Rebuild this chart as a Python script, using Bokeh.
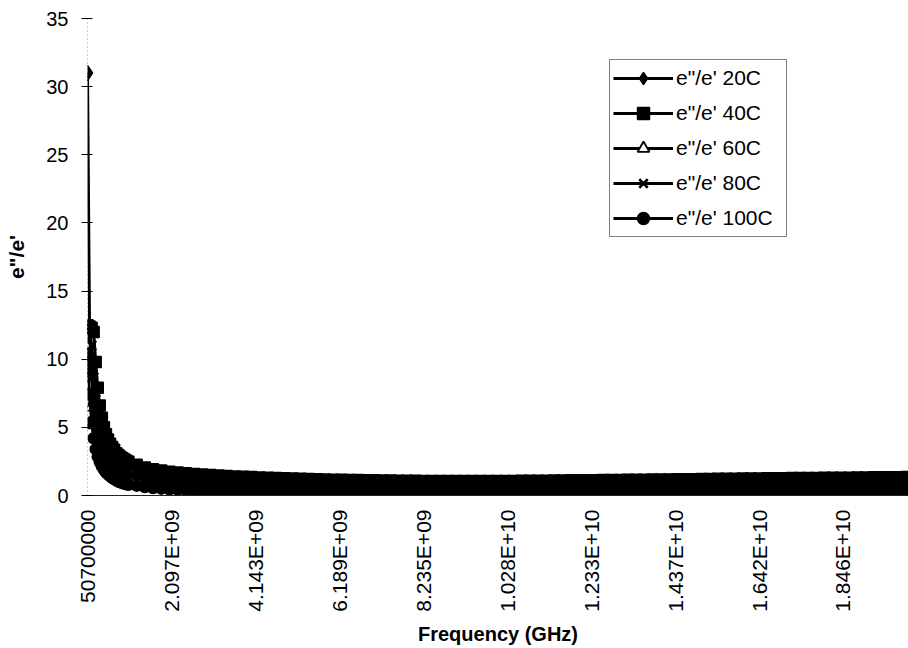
from bokeh.plotting import figure
from bokeh.models import FixedTicker, Legend, LegendItem, Range1d
from bokeh.embed import file_html
from bokeh.resources import INLINE
import math

# Sweep point numbers that are plotted (401-point sweep, 50.7 MHz .. ~20 GHz)
point_index = list(range(0, 21)) + list(range(24, 401, 4))

# Category-axis labels shown every 41 sweep points
tick_index = [0, 41, 82, 123, 164, 205, 246, 287, 328, 369]
tick_labels = ["50700000", "2.097E+09", "4.143E+09", "6.189E+09", "8.235E+09",
               "1.028E+10", "1.233E+10", "1.437E+10", "1.642E+10", "1.846E+10"]

y_ticks = [0, 5, 10, 15, 20, 25, 30, 35]

# Loss ratio e''/e' for each temperature
loss_20c = [
    31.0, 12.2, 8.9, 6.8, 5.5, 4.6, 4.0, 3.55, 3.2, 2.9, 2.65, 2.45, 2.28, 2.14, 2.01, 1.9, 1.81, 1.73, 1.66, 1.6, 1.55,
    1.46, 1.33, 1.23, 1.16, 1.10, 1.06, 1.02, 0.99, 0.96, 0.93,
    0.91, 0.89, 0.87, 0.85, 0.84, 0.82, 0.81, 0.80, 0.79, 0.77,
    0.76, 0.76, 0.75, 0.74, 0.73, 0.72, 0.72, 0.71, 0.71, 0.70,
    0.70, 0.69, 0.69, 0.68, 0.68, 0.68, 0.68, 0.68, 0.67, 0.67,
    0.67, 0.67, 0.67, 0.67, 0.68, 0.68, 0.68, 0.69, 0.69, 0.70,
    0.70, 0.70, 0.70, 0.71, 0.71, 0.71, 0.71, 0.72, 0.72, 0.73,
    0.73, 0.73, 0.74, 0.74, 0.74, 0.75, 0.75, 0.75, 0.76, 0.76,
    0.77, 0.77, 0.78, 0.78, 0.78, 0.79, 0.79, 0.80, 0.80, 0.80,
    0.81, 0.81, 0.81, 0.81, 0.82, 0.82, 0.82, 0.83, 0.83, 0.83,
    0.84, 0.84, 0.84, 0.85, 0.85,
]
loss_40c = [
    12.5, 12.4, 12.3, 12.0, 9.8, 7.9, 6.6, 5.7, 5.0, 4.5, 4.1, 3.8, 3.55, 3.35, 3.1, 2.97, 2.85, 2.74, 2.64, 2.55, 2.47,
    2.25, 2.06, 1.93, 1.83, 1.75, 1.68, 1.63, 1.58, 1.54, 1.50,
    1.46, 1.43, 1.40, 1.37, 1.35, 1.32, 1.30, 1.28, 1.26, 1.24,
    1.22, 1.21, 1.19, 1.18, 1.16, 1.15, 1.14, 1.13, 1.12, 1.11,
    1.10, 1.10, 1.09, 1.08, 1.08, 1.07, 1.07, 1.07, 1.06, 1.06,
    1.06, 1.06, 1.06, 1.06, 1.07, 1.07, 1.07, 1.08, 1.08, 1.09,
    1.09, 1.10, 1.10, 1.11, 1.11, 1.12, 1.12, 1.13, 1.14, 1.14,
    1.15, 1.15, 1.16, 1.17, 1.17, 1.18, 1.19, 1.19, 1.20, 1.21,
    1.21, 1.22, 1.23, 1.23, 1.24, 1.25, 1.25, 1.26, 1.27, 1.27,
    1.28, 1.28, 1.29, 1.29, 1.30, 1.30, 1.31, 1.31, 1.32, 1.32,
    1.33, 1.33, 1.34, 1.34, 1.35,
]
loss_60c = [
    11.0, 8.1, 6.5, 5.2, 4.3, 3.6, 3.1, 2.75, 2.45, 2.2, 2.0, 1.84, 1.7, 1.58, 1.48, 1.4, 1.33, 1.27, 1.22, 1.17, 1.13,
    1.09, 0.97, 0.89, 0.83, 0.78, 0.74, 0.72, 0.69, 0.66, 0.65,
    0.63, 0.61, 0.60, 0.59, 0.58, 0.57, 0.56, 0.55, 0.55, 0.54,
    0.53, 0.53, 0.52, 0.52, 0.52, 0.51, 0.50, 0.50, 0.50, 0.50,
    0.49, 0.49, 0.49, 0.49, 0.49, 0.48, 0.48, 0.48, 0.48, 0.48,
    0.48, 0.48, 0.48, 0.48, 0.48, 0.48, 0.48, 0.49, 0.49, 0.50,
    0.50, 0.50, 0.50, 0.50, 0.50, 0.51, 0.51, 0.51, 0.52, 0.52,
    0.52, 0.52, 0.52, 0.53, 0.53, 0.53, 0.54, 0.54, 0.54, 0.54,
    0.55, 0.55, 0.55, 0.55, 0.56, 0.56, 0.56, 0.56, 0.57, 0.57,
    0.57, 0.57, 0.58, 0.58, 0.58, 0.58, 0.58, 0.59, 0.59, 0.59,
    0.60, 0.60, 0.60, 0.60, 0.61,
]
loss_80c = [
    12.3, 12.2, 11.0, 9.2, 7.6, 6.4, 5.5, 4.85, 4.35, 3.95, 3.6, 3.35, 3.12, 2.93, 2.76, 2.62, 2.49, 2.38, 2.28, 2.19, 2.11,
    1.88, 1.72, 1.60, 1.51, 1.44, 1.38, 1.33, 1.28, 1.25, 1.22,
    1.18, 1.16, 1.13, 1.11, 1.09, 1.07, 1.05, 1.04, 1.02, 1.01,
    0.99, 0.98, 0.97, 0.96, 0.95, 0.94, 0.93, 0.92, 0.91, 0.90,
    0.90, 0.90, 0.89, 0.88, 0.88, 0.87, 0.87, 0.87, 0.86, 0.86,
    0.86, 0.86, 0.86, 0.86, 0.87, 0.87, 0.87, 0.88, 0.88, 0.89,
    0.89, 0.90, 0.90, 0.91, 0.91, 0.92, 0.92, 0.93, 0.93, 0.93,
    0.94, 0.94, 0.95, 0.96, 0.96, 0.97, 0.97, 0.97, 0.98, 0.99,
    0.99, 1.00, 1.01, 1.01, 1.01, 1.02, 1.02, 1.03, 1.04, 1.04,
    1.05, 1.05, 1.05, 1.05, 1.06, 1.06, 1.07, 1.07, 1.08, 1.08,
    1.09, 1.09, 1.09, 1.10, 1.10,
]
loss_100c = [
    10.4, 7.4, 5.4, 4.2, 3.4, 2.85, 2.45, 2.15, 1.9, 1.7, 1.55, 1.42, 1.3, 1.2, 1.11, 1.03, 0.97, 0.91, 0.86, 0.82, 0.78,
    0.72, 0.62, 0.55, 0.50, 0.46, 0.43, 0.41, 0.39, 0.37, 0.36,
    0.35, 0.34, 0.33, 0.33, 0.32, 0.32, 0.31, 0.31, 0.31, 0.30,
    0.30, 0.30, 0.30, 0.30, 0.30, 0.29, 0.29, 0.29, 0.29, 0.29,
    0.29, 0.29, 0.29, 0.29, 0.29, 0.29, 0.29, 0.29, 0.29, 0.29,
    0.29, 0.29, 0.29, 0.29, 0.29, 0.29, 0.29, 0.30, 0.30, 0.30,
    0.30, 0.30, 0.30, 0.30, 0.30, 0.30, 0.30, 0.31, 0.31, 0.31,
    0.31, 0.31, 0.31, 0.32, 0.32, 0.32, 0.32, 0.32, 0.32, 0.32,
    0.33, 0.33, 0.33, 0.33, 0.33, 0.33, 0.33, 0.33, 0.34, 0.34,
    0.34, 0.34, 0.34, 0.34, 0.34, 0.34, 0.34, 0.35, 0.35, 0.35,
    0.35, 0.35, 0.35, 0.36, 0.36,
]

series_names = ["e\"/e' 20C", "e\"/e' 40C", "e\"/e' 60C", "e\"/e' 80C", "e\"/e' 100C"]
series_values = [loss_20c, loss_40c, loss_60c, loss_80c, loss_100c]
series_markers = ["diamond", "square", "triangle", "x", "circle"]
series_marker_sizes = [15, 11, 13, 13, 11]
series_marker_lw = [1.5, 1.5, 1.8, 2.5, 1.5]
series_fill = ["black", "black", "white", "black", "black"]
# hollow triangles go underneath so the dense band stays solid
draw_order = [2, 3, 0, 1, 4]

FONT = "Liberation Sans"

p = figure(width=908, height=648, output_backend="svg", toolbar_location=None,
           x_range=Range1d(0, 401), y_range=Range1d(0, 35),
           min_border_left=87, min_border_right=0, min_border_top=18, min_border_bottom=153)
p.outline_line_color = None
p.background_fill_color = "white"
p.border_fill_color = "white"

# Axes
p.xaxis.ticker = FixedTicker(ticks=tick_index)
p.xaxis.major_label_overrides = {t: lab for t, lab in zip(tick_index, tick_labels)}
p.xaxis.major_label_orientation = math.pi / 2
p.xaxis.major_tick_in = 0
p.xaxis.major_tick_out = 0
p.xaxis.minor_tick_line_color = None
p.xaxis.axis_line_color = "#222222"
p.xaxis.axis_line_width = 1
p.xaxis.major_label_standoff = 14
p.xaxis.major_label_text_font = FONT
p.xaxis.major_label_text_font_size = "21px"
p.xaxis.major_label_text_color = "black"
p.xaxis.axis_label = "Frequency (GHz)"
p.xaxis.axis_label_text_font = FONT
p.xaxis.axis_label_text_font_style = "bold"
p.xaxis.axis_label_text_font_size = "20px"
p.xaxis.axis_label_text_color = "black"
p.xaxis.axis_label_standoff = 8

p.yaxis.ticker = FixedTicker(ticks=y_ticks)
p.yaxis.major_tick_in = 5
p.yaxis.major_tick_out = 6
p.yaxis.major_tick_line_color = "black"
p.yaxis.minor_tick_line_color = None
p.yaxis.axis_line_color = "#9a9a9a"
p.yaxis.axis_line_dash = "1 3"
p.yaxis.major_label_standoff = 13
p.yaxis.major_label_text_font = FONT
p.yaxis.major_label_text_font_size = "20px"
p.yaxis.major_label_text_color = "black"
p.yaxis.axis_label = "e\"/e'"
p.yaxis.axis_label_text_font = FONT
p.yaxis.axis_label_text_font_style = "bold"
p.yaxis.axis_label_text_font_size = "21px"
p.yaxis.axis_label_text_color = "black"
p.yaxis.axis_label_standoff = 15

p.xgrid.grid_line_color = None
p.ygrid.ticker = FixedTicker(ticks=[35])
p.ygrid.grid_line_color = "black"
p.ygrid.grid_line_width = 1

renderers = {}
for i in draw_order:
    vals = series_values[i]
    ln = p.line(point_index, vals, line_color="black", line_width=3)
    sc = p.scatter(point_index, vals, marker=series_markers[i], size=series_marker_sizes[i],
                   line_color="black", fill_color=series_fill[i], line_width=series_marker_lw[i])
    renderers[i] = [ln, sc]

items = [LegendItem(label=series_names[i], renderers=renderers[i]) for i in range(len(series_names))]

legend = Legend(items=items, location=(522, 258))
legend.border_line_color = "black"
legend.border_line_width = 1
legend.background_fill_color = "white"
legend.background_fill_alpha = 1
legend.padding = 3
legend.spacing = 5
legend.margin = 0
legend.glyph_width = 60
legend.glyph_height = 30
legend.label_standoff = 3
legend.label_width = 107
legend.label_height = 30
legend.label_text_font = FONT
legend.label_text_font_size = "21px"
legend.label_text_color = "black"
p.add_layout(legend, "center")

open("out.html", "w").write(file_html(p, INLINE))
